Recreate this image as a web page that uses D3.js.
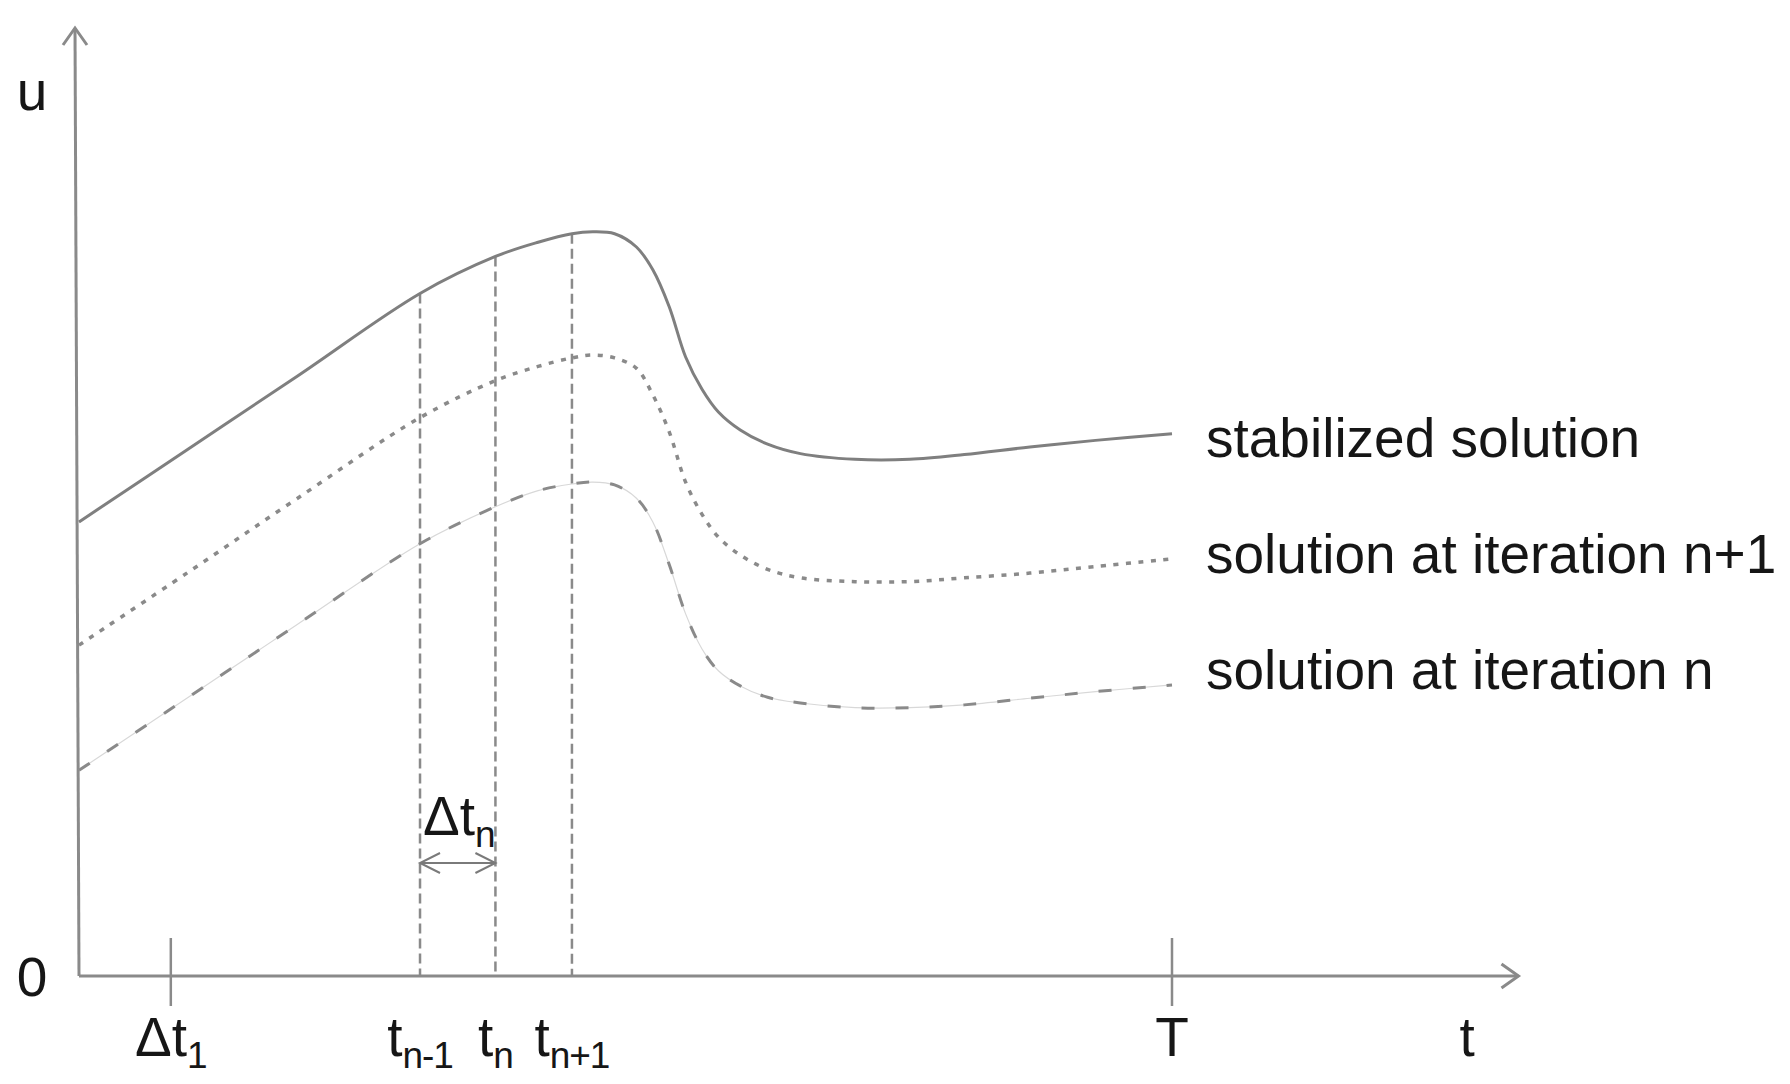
<!DOCTYPE html>
<html>
<head>
<meta charset="utf-8">
<script src="https://cdn.jsdelivr.net/npm/d3@7"></script>
<style>
  body { margin: 0; background: #fff; }
  text { font-family: "Liberation Sans", Arial, sans-serif; fill: #161616; }
</style>
</head>
<body>
<svg id="chart" width="1790" height="1084"></svg>
<script>
// sample times along the t axis (T = 100)
var times = [0, 10, 20, 31.2, 38.1, 42, 45.1, 47, 49, 51, 52.5, 54, 55.5, 57, 58.5, 60.5, 63, 66, 71, 76, 81, 87, 93, 100];

// u values
var stabilized = [47.9, 55.6, 63.3, 72.0, 75.9, 77.4, 78.3, 78.5, 78.3, 76.9, 74.5, 70.6, 65.3, 61.9, 59.5, 57.6, 56.1, 55.1, 54.5, 54.5, 55.0, 55.8, 56.5, 57.2];
var iterNext   = [34.9, 42.6, 50.4, 58.9, 62.8, 64.3, 65.2, 65.5, 65.2, 64.1, 61.3, 57.4, 52.1, 48.7, 46.3, 44.4, 42.9, 42.0, 41.6, 41.6, 42.0, 42.5, 43.2, 44.0];
var iterN      = [21.7, 29.4, 37.1, 45.6, 49.5, 51.2, 51.9, 52.1, 51.8, 50.4, 47.9, 43.4, 38.2, 34.5, 32.2, 30.6, 29.4, 28.8, 28.3, 28.3, 28.6, 29.3, 30.0, 30.7];

var seriesNames = ["stabilized solution", "solution at iteration n+1", "solution at iteration n"];

// marks on the t axis
var markTimes  = [8.4, 31.2, 38.1, 45.1, 100];
var markMain   = ["Δt", "t", "t", "t", "T"];
var markSub    = ["1", "n-1", "n", "n+1", ""];
var markSolid  = [true, false, false, false, true];   // short tick or dashed guide up to the curve

var tAxisEnd = 131.7, uAxisEnd = 100;

var svg = d3.select("#chart");

var x = d3.scaleLinear().domain([0, 100]).range([79, 1172]);
var y = d3.scaleLinear().domain([0, 100]).range([976, 28]);

var grey = "#8a8a8a";
var fontSize = 55, subSize = 37;

// axes
function chevron(px, py, dir) {
  // open arrow head, dir = "up" or "right"
  var p = d3.path();
  if (dir == "up") {
    p.moveTo(px - 12, py + 17); p.lineTo(px, py); p.lineTo(px + 12, py + 17);
  } else {
    p.moveTo(px - 17, py - 12); p.lineTo(px, py); p.lineTo(px - 17, py + 12);
  }
  return p.toString();
}

svg.append("line")
  .attr("x1", x(0)).attr("y1", y(0))
  .attr("x2", x(0) - 4).attr("y2", y(uAxisEnd))
  .attr("stroke", grey).attr("stroke-width", 3);
svg.append("path")
  .attr("d", chevron(x(0) - 4, y(uAxisEnd), "up"))
  .attr("fill", "none").attr("stroke", grey).attr("stroke-width", 3);

svg.append("line")
  .attr("x1", x(0)).attr("y1", y(0))
  .attr("x2", x(tAxisEnd)).attr("y2", y(0))
  .attr("stroke", grey).attr("stroke-width", 3);
svg.append("path")
  .attr("d", chevron(x(tAxisEnd), y(0), "right"))
  .attr("fill", "none").attr("stroke", grey).attr("stroke-width", 3);

// axis titles
svg.append("text").attr("x", 32).attr("y", 110)
  .attr("text-anchor", "middle").style("font-size", fontSize + "px").text("u");
svg.append("text").attr("x", 32).attr("y", 996)
  .attr("text-anchor", "middle").style("font-size", fontSize + "px").text("0");
svg.append("text").attr("x", x(127)).attr("y", 1056)
  .attr("text-anchor", "middle").style("font-size", fontSize + "px").text("t");

// value of the stabilized solution at a given sample time
function stabAt(t) {
  var i = times.indexOf(t);
  return stabilized[i];
}

// ticks and dashed guides
markTimes.forEach(function(t, i) {
  if (markSolid[i]) {
    svg.append("line")
      .attr("x1", x(t)).attr("x2", x(t))
      .attr("y1", y(0) - 38).attr("y2", y(0) + 30)
      .attr("stroke", grey).attr("stroke-width", 2.5);
  } else {
    svg.append("line")
      .attr("x1", x(t)).attr("x2", x(t))
      .attr("y1", y(stabAt(t))).attr("y2", y(0))
      .attr("stroke", grey).attr("stroke-width", 2.5)
      .attr("stroke-dasharray", "10,5");
  }
  var lab = svg.append("text")
    .attr("x", x(t)).attr("y", 1056)
    .attr("text-anchor", "middle")
    .style("font-size", fontSize + "px");
  lab.append("tspan").text(markMain[i]);
  if (markSub[i]) {
    lab.append("tspan").attr("dy", 12)
      .style("font-size", subSize + "px").style("letter-spacing", "-1px")
      .text(markSub[i]);
  }
});

// Δt_n step annotation between t_{n-1} and t_n
var stepY = 863;
svg.append("line")
  .attr("x1", x(markTimes[1])).attr("x2", x(markTimes[2]))
  .attr("y1", stepY).attr("y2", stepY)
  .attr("stroke", "#7a7a7a").attr("stroke-width", 2);
[[x(markTimes[1]), 1], [x(markTimes[2]), -1]].forEach(function(a) {
  svg.append("path")
    .attr("d", "M" + (a[0] + a[1] * 20) + "," + (stepY - 10) + "L" + a[0] + "," + stepY + "L" + (a[0] + a[1] * 20) + "," + (stepY + 10))
    .attr("fill", "none").attr("stroke", "#7a7a7a").attr("stroke-width", 2);
});
var stepLab = svg.append("text")
  .attr("x", x(markTimes[1]) + 3).attr("y", 835)
  .style("font-size", fontSize + "px");
stepLab.append("tspan").text("Δt");
stepLab.append("tspan").attr("dy", 12).style("font-size", subSize + "px").text("n");

// curves
var line = d3.line()
  .x(function(d) { return x(d[0]); })
  .y(function(d) { return y(d[1]); })
  .curve(d3.curveCatmullRom.alpha(0.5));

function pairs(vals) { return times.map(function(t, i) { return [t, vals[i]]; }); }

svg.append("path").attr("d", line(pairs(stabilized)))
  .attr("fill", "none").attr("stroke", "#7f7f7f").attr("stroke-width", 3);

svg.append("path").attr("d", line(pairs(iterNext)))
  .attr("fill", "none").attr("stroke", "#8a8a8a").attr("stroke-width", 3.5)
  .attr("stroke-dasharray", "5,7.5");

svg.append("path").attr("d", line(pairs(iterN)))
  .attr("fill", "none").attr("stroke", "#d8d8d8").attr("stroke-width", 1.2);
svg.append("path").attr("d", line(pairs(iterN)))
  .attr("fill", "none").attr("stroke", "#8a8a8a").attr("stroke-width", 3)
  .attr("stroke-dasharray", "13,21");

// labels at the right end of the curves
var lastVals = [stabilized, iterNext, iterN].map(function(v) { return v[v.length - 1]; });
var row0 = y(lastVals[0]) + 23;
seriesNames.forEach(function(name, i) {
  svg.append("text")
    .attr("x", 1206).attr("y", row0 + i * 116)
    .style("font-size", fontSize + "px")
    .text(name);
});
</script>
</body>
</html>
